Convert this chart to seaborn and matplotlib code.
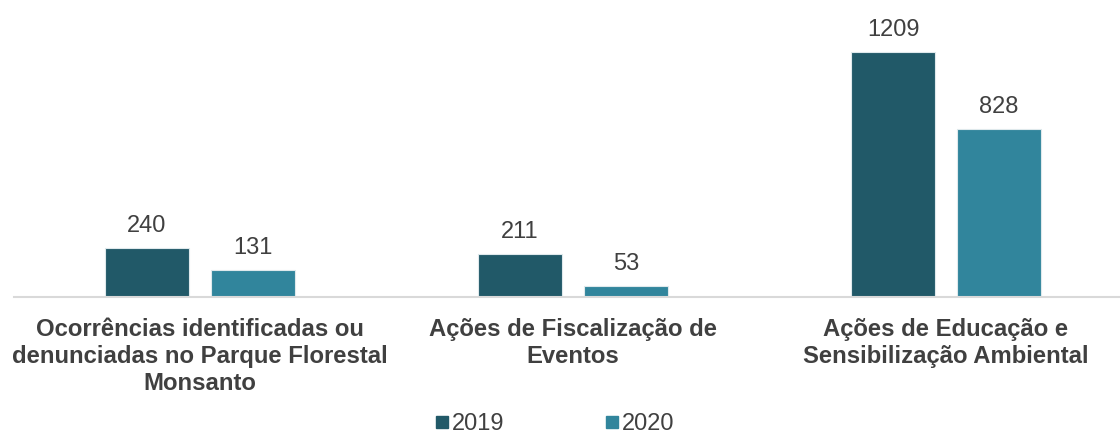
import matplotlib
matplotlib.use("Agg")
import matplotlib.pyplot as plt
import seaborn as sns
import pandas as pd
from matplotlib.lines import Line2D

categories = [
    "Ocorrências identificadas ou\ndenunciadas no Parque Florestal\nMonsanto",
    "Ações de Fiscalização de\nEventos",
    "Ações de Educação e\nSensibilização Ambiental",
]
series_names = ["2019", "2020"]
values_2019 = [240, 211, 1209]
values_2020 = [131, 53, 828]
colors = ["#215968", "#31859C"]

df = pd.DataFrame({
    "categoria": categories * 2,
    "ano": [series_names[0]] * 3 + [series_names[1]] * 3,
    "valor": values_2019 + values_2020,
})

sns.set_theme(style="white")
plt.rcParams["font.family"] = ["Liberation Sans", "DejaVu Sans"]
text_color = "#404040"

fig = plt.figure(figsize=(11.2, 4.37), dpi=100)
ax = fig.add_axes([13.5 / 1120, 140 / 437, 1119 / 1120, 284 / 437])

sns.barplot(data=df, x="categoria", y="valor", hue="ano", palette=colors,
            saturation=1, width=0.568, gap=0.208, ax=ax, legend=False,
            edgecolor="#dfe9ec", linewidth=0.8)

for cont in ax.containers:
    ax.bar_label(cont, fmt="%d", padding=8, fontsize=17, color=text_color)

ax.set_xlim(-0.5, 2.5)
ax.set_ylim(0, 1400)
ax.set_xlabel("")
ax.set_ylabel("")
ax.set_yticks([])
ax.tick_params(axis="x", length=0, pad=15, labelsize=17.2, labelcolor=text_color)
for lbl in ax.get_xticklabels():
    lbl.set_fontweight("bold")
    lbl.set_linespacing(1.24)
for s in ["top", "right", "left"]:
    ax.spines[s].set_visible(False)
ax.spines["bottom"].set_color("#d9d9d9")
ax.spines["bottom"].set_linewidth(1.5)

handles = [Line2D([0], [0], marker="s", linestyle="none", markersize=8.5,
                  markerfacecolor=c, markeredgecolor=c) for c in colors]
fig.legend(handles, series_names, loc="lower center", bbox_to_anchor=(0.4933, -0.045),
           ncol=2, frameon=False, fontsize=17, labelcolor=text_color,
           handletextpad=-0.1, columnspacing=4.08, handlelength=1.0)

fig.savefig("out.png", dpi=100)
